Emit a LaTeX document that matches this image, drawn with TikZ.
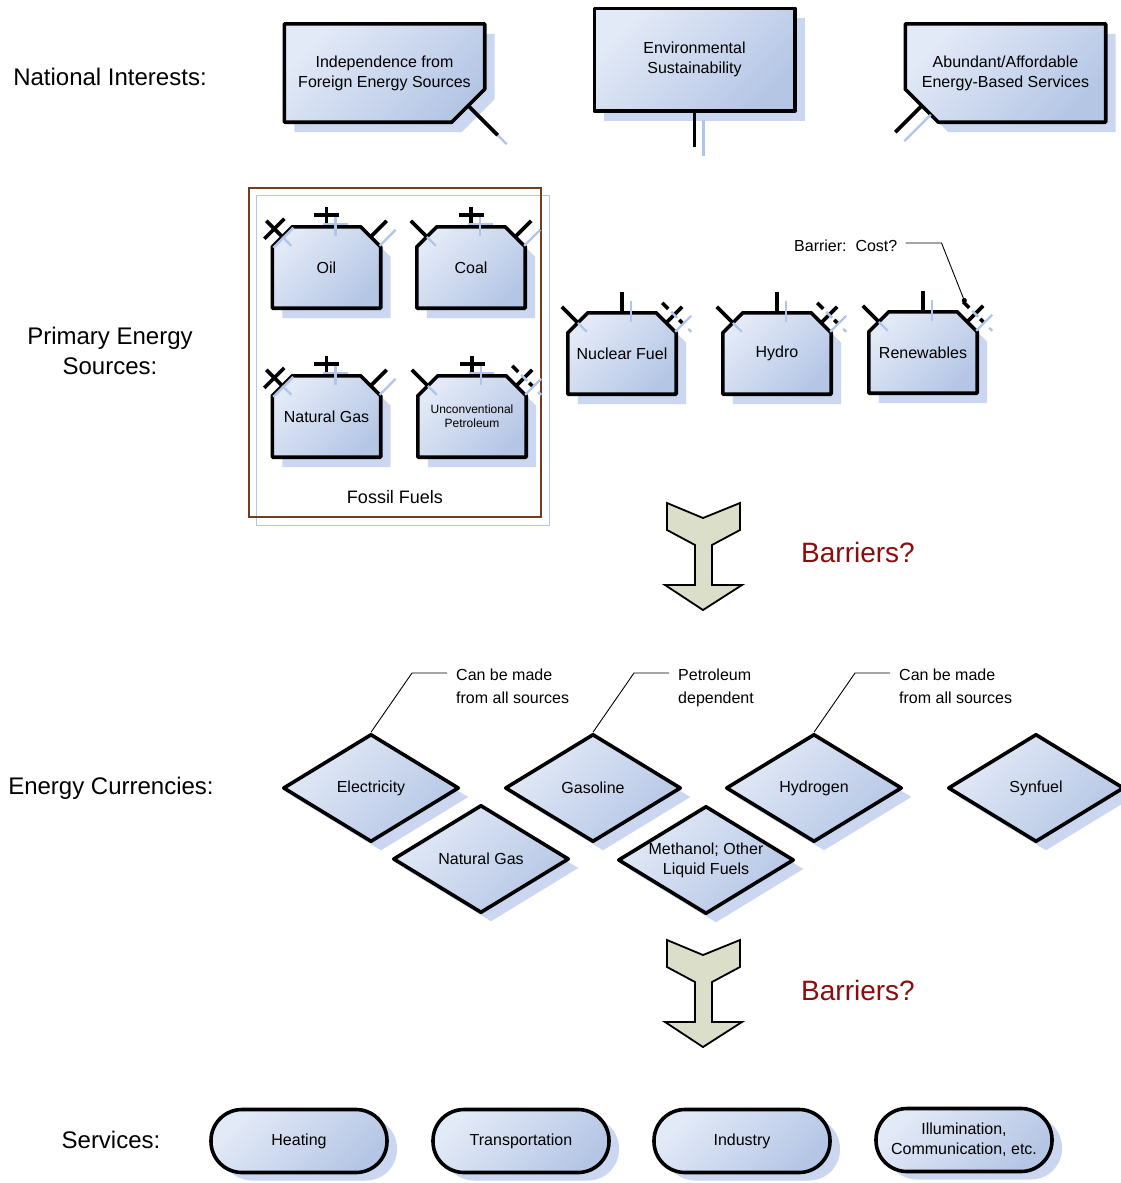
\documentclass[tikz,border=0pt]{standalone}
\usepackage{fontspec}
\setmainfont{Liberation Sans}
\usetikzlibrary{calc,shapes.geometric,shadows,arrows.meta,backgrounds}

\definecolor{boxlight}{RGB}{227,234,247}
\definecolor{boxdark}{RGB}{181,198,229}
\definecolor{shadowblue}{RGB}{203,215,241}
\definecolor{stubshade}{RGB}{176,197,236}
\definecolor{framebrown}{RGB}{112,62,30}
\definecolor{arrowfill}{RGB}{219,223,202}
\definecolor{barrierred}{RGB}{140,12,12}

\tikzset{
  ink/.style={line width=3.6pt, line join=round},
  bodyfill/.style={top color=boxlight, bottom color=boxdark, shading angle=45},
  shadowfill/.style={fill=shadowblue, draw=none},
  stubink/.style={line width=3.6pt, draw=black},
  stubshadow/.style={line width=2.4pt, draw=stubshade},
  t16/.style={font=\fontsize{16}{20}\selectfont, align=center, text=black},
  sidelabel/.style={font=\fontsize{24}{30}\selectfont, align=center},
  holder/.style={rectangle, draw=none, inner sep=0pt, t16},
  srcholder/.style={holder, minimum width=108pt, minimum height=81pt},
  interestholder/.style={holder, minimum width=200pt, minimum height=98pt},
  currency/.style={diamond, aspect=1.6, minimum width=176pt, minimum height=108pt,
    inner sep=0pt, ink, draw=black, bodyfill, t16,
    drop shadow={shadow xshift=10pt, shadow yshift=-9pt, fill=shadowblue, opacity=1}},
  service/.style={rectangle, rounded corners=31pt, minimum width=176pt, minimum height=63pt,
    inner sep=0pt, ink, draw=black, bodyfill, t16,
    drop shadow={shadow xshift=10pt, shadow yshift=-8pt, fill=shadowblue, opacity=1}},
  note/.style={font=\fontsize{16}{23}\selectfont, align=left, inner sep=0pt},
  leader/.style={line width=0.9pt, draw=black},
  barrow/.style={draw=black, line width=1.8pt, fill=arrowfill, line join=miter},
  barrierlbl/.style={font=\fontsize{28}{34}\selectfont, text=barrierred},
}

% a thick connection stub with its pale offset copy
\newcommand\stubline[2]{%
  \draw[stubshadow] ($#1+(9,9)$) -- ($#2+(9,9)$);
  \draw[stubink] ($#1$) -- ($#2$);
}

% source body: rectangle with both upper corners cut off
\newcommand\srcshape[1]{%
  \begin{pgfonlayer}{background}
    \fill[shadowfill] ($(#1.south west)+(10,10)$) -- ($(#1.north west)+(10,30)$)
      -- ($(#1.north west)+(30,10)$) -- ($(#1.north east)+(-10,10)$)
      -- ($(#1.north east)+(10,30)$) -- ($(#1.south east)+(10,10)$) -- cycle;
    \draw[ink,bodyfill] (#1.south west) -- ($(#1.north west)+(0,20)$)
      -- ($(#1.north west)+(20,0)$) -- ($(#1.north east)+(-20,0)$)
      -- ($(#1.north east)+(0,20)$) -- (#1.south east) -- cycle;
  \end{pgfonlayer}
  \coordinate (#1-l) at ($(#1.north west)+(10,10)$);
  \coordinate (#1-r) at ($(#1.north east)+(-10,10)$);
  \coordinate (#1-t) at (#1.north);
}
\newcommand\markLplain[1]{\stubline{(#1-l)}{(#1-l)+(-16,-16)}}
\newcommand\markLcross[1]{\markLplain{#1}\stubline{(#1-l)+(-18,2)}{(#1-l)+(2,-18)}}
\newcommand\markTplus[1]{\stubline{(#1-t)}{(#1-t)+(0,-20)}\stubline{(#1-t)+(-12.5,-12)}{(#1-t)+(12.5,-12)}}
\newcommand\markTplain[1]{\stubline{(#1-t)}{(#1-t)+(0,-21)}}
\newcommand\markRplain[1]{\stubline{(#1-r)}{(#1-r)+(16,-16)}}
\newcommand\markRdash[1]{\markRplain{#1}\stubline{(#1-r)+(-4,-20)}{(#1-r)+(2,-14)}\stubline{(#1-r)+(13,-3)}{(#1-r)+(16,0)}}

% block arrow between the tiers
\newcommand\barrierarrow[1]{%
  \draw[barrow] (#1) +(-36,0) -- +(0,15) -- +(37,0) -- +(37,27) -- +(9,42) -- +(9,82)
    -- +(39,82) -- +(0,107) -- +(-38,82) -- +(-8,82) -- +(-8,42) -- +(-36,27) -- cycle;
}

\begin{document}
\begin{tikzpicture}[x=1pt,y=-1pt]
\useasboundingbox (0,0) rectangle (1120,1183);
\begin{pgfonlayer}{background}
  \fill[white] (0,0) rectangle (1120,1183);
\end{pgfonlayer}

% tier labels
\node[sidelabel] (lblni) at (110,77) {National Interests:};
\node[sidelabel] (lblpe) at (110,351) {Primary Energy\\Sources:};
\node[sidelabel] (lblec) at (111,788) {Energy Currencies:};
\node[sidelabel] (lblsv) at (111,1140) {Services:};

% national interests
\node[interestholder] (ind) at (384.5,73) {Independence from\\Foreign Energy Sources};
\begin{pgfonlayer}{background}
  \fill[shadowfill] ($(ind.north west)+(10,10)$) -- ($(ind.north east)+(10,10)$)
    -- ($(ind.south east)+(10,-23)$) -- ($(ind.south east)+(-23,10)$)
    -- ($(ind.south west)+(10,10)$) -- cycle;
  \draw[ink,bodyfill] (ind.north west) -- (ind.north east) -- ($(ind.south east)+(0,-33)$)
    -- ($(ind.south east)+(-33,0)$) -- (ind.south west) -- cycle;
\end{pgfonlayer}
\stubline{(ind.south east)+(-16.5,-16.5)}{(ind.south east)+(13,13)}

\node[interestholder, minimum height=102pt] (env) at (694.5,59.5) {Environmental\\Sustainability};
\begin{pgfonlayer}{background}
  \fill[shadowfill] ($(env.north west)+(10,10)$) rectangle ($(env.south east)+(10,10)$);
  \draw[ink,bodyfill] (env.north west) rectangle (env.south east);
\end{pgfonlayer}
\stubline{(env.south)}{(env.south)+(0,36)}

\node[interestholder] (abd) at (1005.5,73) {Abundant/Affordable\\Energy-Based Services};
\begin{pgfonlayer}{background}
  \fill[shadowfill] ($(abd.north west)+(10,10)$) -- ($(abd.north east)+(10,10)$)
    -- ($(abd.south east)+(10,10)$) -- ($(abd.south west)+(43,10)$)
    -- ($(abd.south west)+(10,-23)$) -- cycle;
  \draw[ink,bodyfill] (abd.north west) -- (abd.north east) -- (abd.south east)
    -- ($(abd.south west)+(33,0)$) -- ($(abd.south west)+(0,-33)$) -- cycle;
\end{pgfonlayer}
\stubline{(abd.south west)+(16.5,-16.5)}{(abd.south west)+(-10,10)}

% fossil fuel group
\node[draw=framebrown, line width=1.5pt, minimum width=292pt, minimum height=329pt, inner sep=0pt] (fossil) at (395,352.5) {};
\begin{pgfonlayer}{background}
  \draw[stubshade, line width=1.4pt] ($(fossil.north west)+(8,8)$) rectangle ($(fossil.south east)+(8,8)$);
\end{pgfonlayer}
\node[font=\fontsize{18}{22}\selectfont] (fossiltitle) at (395,497) {Fossil Fuels};

% primary energy sources
\node[srcholder] (oil) at (326.5,267.5) {Oil}; \srcshape{oil}
\node[srcholder] (coal) at (471,267.5) {Coal}; \srcshape{coal}
\node[srcholder] (ngas) at (326.5,416.5) {Natural Gas}; \srcshape{ngas}
\node[srcholder, font=\fontsize{12}{14}\selectfont] (unconv) at (472,416.5) {Unconventional\\Petroleum}; \srcshape{unconv}
\node[srcholder] (nuc) at (622,353.5) {Nuclear Fuel}; \srcshape{nuc}
\node[srcholder] (hydro) at (777,353.5) {Hydro}; \srcshape{hydro}
\node[srcholder] (ren) at (923,352.5) {Renewables}; \srcshape{ren}

\markLcross{oil}\markTplus{oil}\markRplain{oil}
\markLplain{coal}\markTplus{coal}\markRplain{coal}
\markLcross{ngas}\markTplus{ngas}\markRplain{ngas}
\markLplain{unconv}\markTplus{unconv}\markRdash{unconv}
\markLplain{nuc}\markTplain{nuc}\markRdash{nuc}
\markLplain{hydro}\markTplain{hydro}\markRdash{hydro}
\markLplain{ren}\markTplain{ren}\markRdash{ren}

\node[note, anchor=west] (cost) at (794,246) {Barrier:\ \ Cost?};
\draw[leader, -{Circle[length=5pt]}] ($(cost.east)+(8,-3)$) -- ++(36,0) -- ($(ren-r)+(-2,-19)$);

% barriers between tiers
\coordinate (bar1) at (703,503); \barrierarrow{bar1}
\node[barrierlbl] (bartxt1) at (858,552) {Barriers?};
\coordinate (bar2) at (703,940); \barrierarrow{bar2}
\node[barrierlbl] (bartxt2) at (858,990) {Barriers?};

% energy currencies
\node[currency] (elec) at (371,788) {Electricity};
\node[currency] (gas) at (593,788) {Gasoline};
\node[currency] (htwo) at (814,788) {Hydrogen};
\node[currency] (syn) at (1036,788) {Synfuel};
\node[currency] (cng) at (481,859) {Natural Gas};
\node[currency] (meth) at (706,860) {Methanol; Other\\Liquid Fuels};

\node[note, anchor=north west] (n1) at (456,669) {Can be made\\from all sources};
\node[note, anchor=north west] (n2) at (678,669) {Petroleum\\dependent};
\node[note, anchor=north west] (n3) at (899,669) {Can be made\\from all sources};
\draw[leader] ($(n1.north west)+(-9,4)$) -- ++(-35,0) -- (elec.north);
\draw[leader] ($(n2.north west)+(-9,4)$) -- ++(-35,0) -- (gas.north);
\draw[leader] ($(n3.north west)+(-9,4)$) -- ++(-35,0) -- (htwo.north);

% services
\node[service] (heat) at (299,1141) {Heating};
\node[service] (trans) at (521,1141) {Transportation};
\node[service] (indus) at (742,1141) {Industry};
\node[service] (illum) at (964,1140) {Illumination,\\Communication, etc.};
\end{tikzpicture}
\end{document}
